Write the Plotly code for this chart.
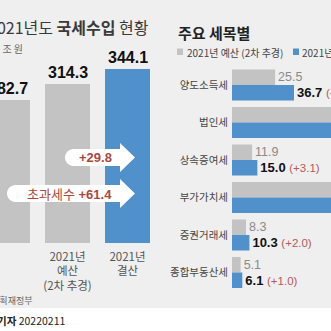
import plotly.graph_objects as go

# ---- data ----
total_labels = ["2021년<br>본예산", "2021년<br>예산<br>(2차 추경)", "2021년<br>결산"]
total_values = [282.7, 314.3, 344.1]

tax_items = ["양도소득세", "법인세", "상속증여세", "부가가치세", "증권거래세", "종합부동산세"]
budget2 = [25.5, 65.5, 11.9, 69.3, 8.3, 5.1]
settled = [36.7, 70.4, 15.0, 71.2, 10.3, 6.1]
legend_names = ["2021년 예산 (2차 추경)", "2021년 결산"]

W = H = 331
BG = "#efefef"
GRAY = "#c3c3c3"
BLUE = "#5090cb"
RED = "#a8493e"
KR = "Noto Sans CJK KR"
NUM = "Liberation Sans, Noto Sans CJK KR"


def px(x):
    return x / W


def py(y):
    return 1 - y / H


fig = go.Figure()

# left panel bars
fig.add_trace(go.Bar(
    x=list(range(len(total_values))), y=total_values,
    marker=dict(color=[GRAY, GRAY, BLUE], line=dict(width=0)),
    width=0.75, xaxis="x", yaxis="y", showlegend=False, hoverinfo="skip",
))

# right panel bars
gray_text = [f"{v:.1f}" for v in budget2]
blue_text = []
for b, s in zip(budget2, settled):
    d = s - b
    blue_text.append(
        f"<b>{s:.1f}</b> <span style='color:#b5585a;font-size:11.5px'>(+{d:.1f})</span>")

fig.add_trace(go.Bar(
    y=tax_items, x=budget2, orientation="h", name=legend_names[0],
    marker=dict(color=GRAY, line=dict(width=0)),
    text=gray_text, textposition="outside", constraintext="none", cliponaxis=False,
    textfont=dict(family=NUM, size=12.5, color="#8a8a8a"),
    xaxis="x2", yaxis="y2", showlegend=False, hoverinfo="skip",
))
fig.add_trace(go.Bar(
    y=tax_items, x=settled, orientation="h", name=legend_names[1],
    marker=dict(color=BLUE, line=dict(width=0)),
    text=blue_text, textposition="outside", constraintext="none", cliponaxis=False,
    textfont=dict(family=NUM, size=13, color="#111"),
    xaxis="x2", yaxis="y2", showlegend=False, hoverinfo="skip",
))

annotations = []
# left value labels
for i, v in enumerate(total_values):
    annotations.append(dict(
        x=i, y=v, xref="x", yref="y", text=f"<b>{v:.1f}</b>", showarrow=False,
        yanchor="bottom", yshift=1, font=dict(family=NUM, size=16, color="#111")))

# titles and notes
annotations += [
    dict(x=px(151), y=py(27), xref="paper", yref="paper", xanchor="right", yanchor="middle",
         text="2021년도 <b>국세수입</b> 현황", showarrow=False,
         font=dict(family=KR, size=16, color="#3a3a3a")),
    dict(x=px(25), y=py(48), xref="paper", yref="paper", xanchor="right", yanchor="middle",
         text="단위: 조 원", showarrow=False, font=dict(family=KR, size=10, color="#666")),
    dict(x=px(34), y=py(300), xref="paper", yref="paper", xanchor="right", yanchor="middle",
         text="자료: 기획재정부", showarrow=False, font=dict(family=KR, size=9, color="#666")),
    dict(x=px(-5), y=py(320), xref="paper", yref="paper", xanchor="left", yanchor="middle",
         text="<b>기자</b> 20220211", showarrow=False, font=dict(family=KR, size=10.5, color="#222")),
    dict(x=px(176), y=py(33), xref="paper", yref="paper", xanchor="left", yanchor="middle",
         text="<b>주요 세목별</b>", showarrow=False, font=dict(family=KR, size=15, color="#222")),
    dict(x=px(185), y=py(52), xref="paper", yref="paper", xanchor="left", yanchor="middle",
         text=legend_names[0], showarrow=False, font=dict(family=KR, size=10, color="#444")),
    dict(x=px(300), y=py(52), xref="paper", yref="paper", xanchor="left", yanchor="middle",
         text=legend_names[1], showarrow=False, font=dict(family=KR, size=10, color="#444")),
]

# arrow labels (differences computed from data)
d1 = total_values[2] - total_values[1]
d2 = total_values[2] - total_values[0]
annotations += [
    dict(x=px(114), y=py(157.5), xref="paper", yref="paper", xanchor="right", yanchor="middle",
         text=f"<b>+{d1:.1f}</b>", showarrow=False, font=dict(family=NUM, size=13, color=RED)),
    dict(x=px(114), y=py(193.5), xref="paper", yref="paper", xanchor="right", yanchor="middle",
         text=f"<span style='font-family:{KR}'>초과세수</span> <b>+{d2:.1f}</b>", showarrow=False,
         font=dict(family=NUM, size=13, color=RED)),
]


def arrow_path(x0, cy, body_h, xb, head_h, tip):
    r = body_h / 2
    top, bot = cy - r, cy + r
    ht, hb = cy - head_h / 2, cy + head_h / 2
    k = 0.5523 * r

    def p(x, y):
        return f"{px(x):.5f},{py(y):.5f}"
    return (f"M {p(x0 + r, top)} L {p(xb, top)} L {p(xb, ht)} L {p(tip, cy)} "
            f"L {p(xb, hb)} L {p(xb, bot)} L {p(x0 + r, bot)} "
            f"C {p(x0 + r - k, bot)} {p(x0, cy + k)} {p(x0, cy)} "
            f"C {p(x0, cy - k)} {p(x0 + r - k, top)} {p(x0 + r, top)} Z")


shapes = [
    dict(type="rect", xref="paper", yref="paper", x0=0, x1=1, y0=0, y1=py(308),
         fillcolor="white", line=dict(width=0), layer="below"),
    dict(type="path", xref="paper", yref="paper", path=arrow_path(65, 157.5, 17, 120, 29, 135),
         fillcolor="white", line=dict(width=0), layer="above"),
    dict(type="path", xref="paper", yref="paper", path=arrow_path(7, 193.5, 17, 120, 29, 135),
         fillcolor="white", line=dict(width=0), layer="above"),
    dict(type="rect", xref="paper", yref="paper", x0=px(177), x1=px(183), y0=py(55), y1=py(48.5),
         fillcolor=GRAY, line=dict(width=0)),
    dict(type="rect", xref="paper", yref="paper", x0=px(293), x1=px(299), y0=py(55), y1=py(48.5),
         fillcolor=BLUE, line=dict(width=0)),
]

fig.update_layout(
    width=W, height=H, margin=dict(l=0, r=0, t=0, b=0),
    paper_bgcolor=BG, plot_bgcolor="rgba(0,0,0,0)",
    barmode="group", bargap=0.17, bargroupgap=0,
    annotations=annotations, shapes=shapes, showlegend=False,
    xaxis=dict(domain=[0, px(165)], range=[-0.125, 2.625], showgrid=False, zeroline=False,
               showline=False, ticks="", tickvals=list(range(len(total_labels))),
               ticktext=total_labels, tickfont=dict(family=KR, size=11.5, color="#555"),
               ticklabelstandoff=5, fixedrange=True),
    yaxis=dict(domain=[py(243), 1], range=[0, 480.5], showgrid=False, zeroline=False,
               showticklabels=False, showline=False, fixedrange=True),
    xaxis2=dict(domain=[px(232), 1], range=[0, 58.6], showgrid=False, zeroline=False,
                showticklabels=False, showline=False, anchor="y2", fixedrange=True),
    yaxis2=dict(domain=[py(291.25), py(66.25)], anchor="x2", range=[5.5, -0.5],
                type="category", showgrid=False, zeroline=False, showline=False, ticks="",
                tickfont=dict(family=KR, size=10.5, color="#444"), ticklabelstandoff=3,
                fixedrange=True),
)

fig.write_html("out.html")
